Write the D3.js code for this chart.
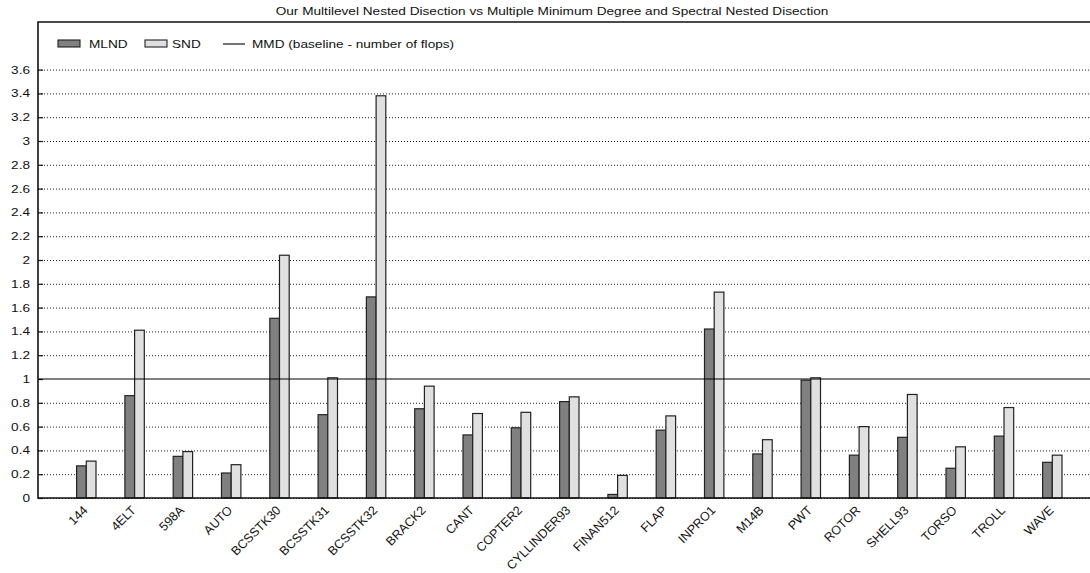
<!DOCTYPE html>
<html>
<head>
<meta charset="utf-8">
<script src="https://cdn.jsdelivr.net/npm/d3@7"></script>
<style>
  html, body { margin: 0; padding: 0; background: #fff; }
  svg { display: block; font-family: "Liberation Sans", Arial, sans-serif; }
</style>
</head>
<body>
<svg id="chart" width="1090" height="573"></svg>
<script>
// Test matrices
const categories = ["144", "4ELT", "598A", "AUTO", "BCSSTK30", "BCSSTK31", "BCSSTK32",
  "BRACK2", "CANT", "COPTER2", "CYLLINDER93", "FINAN512", "FLAP", "INPRO1", "M14B",
  "PWT", "ROTOR", "SHELL93", "TORSO", "TROLL", "WAVE"];

// Operation counts relative to MMD
const mlnd = [0.27, 0.86, 0.35, 0.21, 1.51, 0.70, 1.69, 0.75, 0.53, 0.59, 0.81,
  0.03, 0.57, 1.42, 0.37, 0.99, 0.36, 0.51, 0.25, 0.52, 0.30];
const snd = [0.31, 1.41, 0.39, 0.28, 2.04, 1.01, 3.38, 0.94, 0.71, 0.72, 0.85,
  0.19, 0.69, 1.73, 0.49, 1.01, 0.60, 0.87, 0.43, 0.76, 0.36];

const baseline = 1;
const yTicks = [0, 0.2, 0.4, 0.6, 0.8, 1, 1.2, 1.4, 1.6, 1.8, 2, 2.2, 2.4, 2.6, 2.8, 3, 3.2, 3.4, 3.6];

const seriesNames = ["MLND", "SND"];
const seriesFill = { MLND: "#808080", SND: "#e0e0e0" };

const title = "Our Multilevel Nested Disection vs Multiple Minimum Degree and Spectral Nested Disection";

(function draw() {
  const svg = d3.select("#chart");
  const W = 1090;
  const plotLeft = 38, plotTop = 22, plotBottom = 498, slot = 48.3;
  const fs = 11;        // font size
  const sx = 1.24;      // horizontal stretch of the lettering

  const y = d3.scaleLinear().domain([0, 4]).range([plotBottom, plotTop]);
  const x = d3.scaleBand().domain(categories)
    .range([plotLeft + slot / 2, plotLeft + slot / 2 + slot * categories.length]);
  const barW = 9.7;
  const xs = d3.scaleBand().domain(seriesNames)
    .range([x.bandwidth() / 2 - barW, x.bandwidth() / 2 + barW]);

  // Title
  svg.append("text")
    .attr("transform", `translate(552,15) scale(${sx},1)`)
    .attr("text-anchor", "middle")
    .attr("font-size", fs)
    .attr("fill", "#111")
    .text(title);

  // Dotted grid lines
  svg.append("g")
    .selectAll("line")
    .data(yTicks.filter(d => d !== baseline))
    .join("line")
    .attr("x1", plotLeft).attr("x2", W)
    .attr("y1", d => y(d) + 0.5).attr("y2", d => y(d) + 0.5)
    .attr("stroke", "#222")
    .attr("stroke-width", 1)
    .attr("stroke-dasharray", "1,2");

  // Y axis
  const yAxis = d3.axisLeft(y).tickValues(yTicks).tickSize(-5).tickPadding(7)
    .tickFormat(d => d3.format("~g")(d));
  const gy = svg.append("g").attr("transform", `translate(${plotLeft},0)`).call(yAxis);
  gy.select(".domain").remove();
  gy.selectAll(".tick line").attr("stroke", "#111").attr("stroke-width", 1.2);
  gy.selectAll(".tick text")
    .attr("font-size", fs)
    .attr("font-family", "Liberation Sans, Arial, sans-serif")
    .attr("fill", "#111")
    .attr("x", -8 / sx)
    .attr("transform", `scale(${sx},1)`);

  // Bars
  const rows = categories.map((c, i) => ({ c, MLND: mlnd[i], SND: snd[i] }));
  const groups = svg.append("g").selectAll("g")
    .data(rows)
    .join("g")
    .attr("transform", d => `translate(${x(d.c)},0)`);

  groups.selectAll("rect")
    .data(d => seriesNames.map(k => ({ k, v: d[k] })))
    .join("rect")
    .attr("x", d => xs(d.k))
    .attr("width", xs.bandwidth())
    .attr("y", d => y(d.v))
    .attr("height", d => y(0) - y(d.v))
    .attr("fill", d => seriesFill[d.k])
    .attr("stroke", "#222")
    .attr("stroke-width", 1.2);

  // MMD baseline
  svg.append("line")
    .attr("x1", plotLeft).attr("x2", W)
    .attr("y1", y(baseline)).attr("y2", y(baseline))
    .attr("stroke", "#000").attr("stroke-width", 1.2);

  // Frame: top, left, bottom
  svg.append("path")
    .attr("d", `M${W},${plotTop}H${plotLeft}V${plotBottom}H${W}`)
    .attr("fill", "none")
    .attr("stroke", "#111")
    .attr("stroke-width", 1.6);

  // X axis labels, slanted at 45 degrees
  const xAxis = d3.axisBottom(x).tickSize(0).tickPadding(0);
  const gx = svg.append("g").attr("transform", `translate(0,${plotBottom})`).call(xAxis);
  gx.select(".domain").remove();
  gx.selectAll(".tick text")
    .attr("font-size", 12.5)
    .attr("font-family", "Liberation Sans, Arial, sans-serif")
    .attr("fill", "#111")
    .attr("text-anchor", "end")
    .attr("dy", null)
    .attr("y", 0)
    .attr("transform", "translate(2,13) rotate(-45)");

  // Legend
  const legend = svg.append("g").attr("font-size", fs).attr("fill", "#111");
  const legendItems = [
    { name: "MLND", type: "bar", x: 58, tx: 89 },
    { name: "SND", type: "bar", x: 145, tx: 172 },
    { name: "MMD (baseline - number of flops)", type: "line", x: 223, tx: 252 }
  ];
  legendItems.forEach(it => {
    if (it.type === "bar") {
      legend.append("rect")
        .attr("x", it.x).attr("y", 40).attr("width", 22).attr("height", 7)
        .attr("fill", seriesFill[it.name]).attr("stroke", "#222").attr("stroke-width", 1.1);
    } else {
      legend.append("line")
        .attr("x1", it.x).attr("x2", it.x + 22).attr("y1", 44).attr("y2", 44)
        .attr("stroke", "#000").attr("stroke-width", 1.1);
    }
    legend.append("text")
      .attr("transform", `translate(${it.tx},48) scale(${sx},1)`)
      .text(it.name);
  });
})();
</script>
</body>
</html>
